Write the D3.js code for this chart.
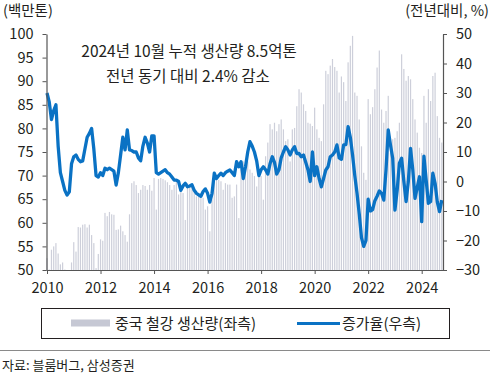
<!DOCTYPE html>
<html><head><meta charset="utf-8">
<script src="https://cdn.jsdelivr.net/npm/d3@7"></script>
<style>
body{margin:0;background:#fff}
svg{display:block}
text{font-family:"Noto Sans CJK KR","Noto Sans",sans-serif;fill:#231f20}
</style></head><body>
<svg id="c" width="491" height="383"></svg>
<script>
// Monthly data, Jan 2010 – Oct 2024
const startYear = 2010;
const production = [ // 중국 철강 생산량 (백만톤)
  52.5,50.1,54.3,55,55.7,53.5,51.2,51.6,50.1,49.5,49.5,51.6,
  55.9,53.9,59.1,59,59.6,59.7,59,59.6,57.4,55.7,50.4,53.4,
  56.5,56.2,62.1,61.4,62.3,61.8,61.7,58.5,58.6,59.4,58.2,57.4,
  56,61.8,68.4,68.8,68,66.3,67,68,67.8,67,68,66.8,
  69.5,62.8,69.3,69.5,69.3,69,68.6,68,67,68,68.6,66,
  67.7,66.3,60.6,68.4,68.1,68.1,67.4,65.6,66,65.3,65.3,62.8,
  63.5,58.2,64.9,68.8,69.1,69.1,68.8,67,68.4,68.1,68.1,65.3,
  65.6,68.1,61,71.3,73,72,73,71.3,70.6,69.9,67.7,70.2,
  69.9,64.9,74.1,77,80.9,79.8,81.2,79.4,80.9,81.9,79.8,77.3,
  77.7,73,79.8,80.1,84.7,88.3,87.6,85.1,83.7,81.2,81,80.5,
  84.4,79.8,78,77.3,85.1,92.2,91.5,93.3,94.7,93,92.2,87.6,
  91,89.8,85.8,94,97.5,99.6,87.6,86.9,81.9,76.2,70.6,69.1,
  86.2,83,84.5,88.3,92.9,96.5,84,81.2,83.7,86.9,74.8,77.7,
  78,79.4,81.2,95.7,92.6,90.1,91.1,90.4,86.2,81.9,79.1,75.9,
  74.8,86.9,81.2,88.3,85.8,91.1,91.8,82.6,78,77
];
const growth = [ // 증가율 (전년대비, %)
  30,27,21,24,26,12,3,0,-3,-4.6,-3.5,6,
  8.4,9,7.5,6.7,7,11,15,16.3,18,11,2,1.5,
  3,2,4.5,4,4.5,4,3.5,-1.2,3,9,15,10.7,
  17.5,10.7,10.5,10,10,8,7,12,15,13,10,15.5,
  15.5,3,2.5,3,3.5,4,3,2.5,1.5,0.5,0.5,0,
  -3,-1.5,-0.6,-1.8,-1.5,-1.1,-3,-4,-4.5,-5,-3.4,-2.5,
  -4,-7,-4,2.8,1,2,2.8,2,3,3.5,3.9,3,
  2,6.7,5,6.7,1,5,10,13.5,12,10,7,2,
  4,5,4,2.5,6,8.4,6.5,2.5,4,8,10,11.8,
  10.7,9,10.7,11.8,9.5,9.5,8.4,9,6.5,4,0,10,
  2,5,1,-1.8,1,3.9,5,8.4,9,10,12.4,8,
  7.5,12.4,12.5,18.6,15,9,2,-4,-11,-19,-22,-20,
  -6,-10,-9.5,-6.5,-5,-3.2,-4,-6.3,3.9,17.5,12.4,7.9,
  -9.7,-3,6.2,7.9,0,-6.8,0,11.2,4,-5.7,-2,1.6,
  -13.6,8.6,0.5,-7.4,-6.8,2.8,-0.6,-7,-10.2,-6.3
];
const yearTicks = ["2010","2012","2014","2016","2018","2020","2022","2024"];
const leftTicks = [50,55,60,65,70,75,80,85,90,95,100];
const rightTicks = [-30,-20,-10,0,10,20,30,40,50];
const legendLabels = ["중국 철강 생산량(좌측)","증가율(우측)"];
const note = ["2024년 10월 누적 생산량 8.5억톤","전년 동기 대비 2.4% 감소"];

const svg = d3.select("#c");
const L = 46.5, R = 443, T = 34, B = 270;
const x = d3.scaleLinear().domain([0,168]).range([47,421.7]);
const yL = d3.scaleLinear().domain([50,100]).range([B,T]);
const yR = d3.scaleLinear().domain([-30,50]).range([B,T]);

// bars
svg.append("g").selectAll("rect").data(production).join("rect")
  .attr("x",(d,i)=>x(i)-0.6).attr("width",1.2)
  .attr("y",d=>yL(Math.max(d,50))).attr("height",d=>B-yL(Math.max(d,50)))
  .attr("fill","#cdcfda");

// line
const line = d3.line().x((d,i)=>x(i)).y(d=>yR(d)).curve(d3.curveLinear);
svg.append("path").datum(growth).attr("d",line)
  .attr("fill","none").attr("stroke","#0a72c4").attr("stroke-width",3.3)
  .attr("stroke-linejoin","round");

// axes
const axisColor = "#555";
const gl = svg.append("g").attr("transform",`translate(${L},0)`)
  .call(d3.axisLeft(yL).tickValues(leftTicks).tickSize(4).tickSizeOuter(0).tickPadding(9));
const gr = svg.append("g").attr("transform",`translate(${R},0)`)
  .call(d3.axisRight(yR).tickValues(rightTicks).tickSize(4).tickSizeOuter(0).tickPadding(9));
const gb = svg.append("g").attr("transform",`translate(0,${B})`)
  .call(d3.axisBottom(x).tickValues(yearTicks.map(t=>(+t-startYear)*12))
    .tickFormat(d=>String(startYear + d/12)).tickSize(4).tickSizeOuter(0).tickPadding(9));
gb.select(".domain").remove();
svg.append("line").attr("x1",L).attr("x2",R).attr("y1",B+0.5).attr("y2",B+0.5)
  .attr("stroke",axisColor).attr("stroke-width",1.2);
[gl,gr,gb].forEach(g=>{
  g.selectAll(".domain").attr("stroke",axisColor).attr("stroke-width",1.2);
  g.selectAll(".tick line").attr("stroke",axisColor);
  g.selectAll(".tick text").attr("font-size",14.5).attr("fill","#231f20")
    .style("font-family",'"Noto Sans CJK KR","Noto Sans",sans-serif');
});

// unit titles
svg.append("text").attr("x",3).attr("y",16).attr("font-size",14.5).text("(백만톤)");
svg.append("text").attr("x",489).attr("y",16).attr("text-anchor","end").attr("font-size",14.5).text("(전년대비, %)");

// annotation
svg.append("text").attr("x",189).attr("y",57).attr("text-anchor","middle").attr("font-size",15.5).text(note[0]);
svg.append("text").attr("x",188).attr("y",82).attr("text-anchor","middle").attr("font-size",15.5).text(note[1]);

// legend
svg.append("rect").attr("x",41.5).attr("y",308.5).attr("width",408).attr("height",30)
  .attr("fill","none").attr("stroke","#231f20").attr("stroke-width",1);
svg.append("rect").attr("x",71).attr("y",319.5).attr("width",39).attr("height",7).attr("fill","#c6c8d4");
svg.append("text").attr("x",115).attr("y",328.5).attr("font-size",15).text(legendLabels[0]);
svg.append("line").attr("x1",297).attr("x2",340).attr("y1",323.5).attr("y2",323.5)
  .attr("stroke","#0a72c4").attr("stroke-width",3);
svg.append("text").attr("x",342).attr("y",328.5).attr("font-size",15).text(legendLabels[1]);

// source
svg.append("line").attr("x1",0).attr("x2",490).attr("y1",350.5).attr("y2",350.5).attr("stroke","#8a8a8a");
svg.append("text").attr("x",2).attr("y",370).attr("font-size",13).text("자료: 블룸버그, 삼성증권");
</script>
</body></html>
